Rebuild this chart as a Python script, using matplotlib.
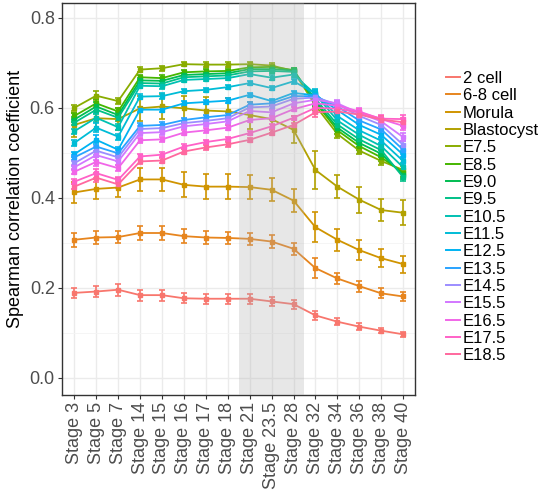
import numpy as np
import matplotlib
matplotlib.use("Agg")
import matplotlib.pyplot as plt

plt.rcParams['font.family'] = ['Liberation Sans', 'DejaVu Sans']

stages = ["Stage 3", "Stage 5", "Stage 7", "Stage 14", "Stage 15", "Stage 16",
          "Stage 17", "Stage 18", "Stage 21", "Stage 23.5", "Stage 28",
          "Stage 32", "Stage 34", "Stage 36", "Stage 38", "Stage 40"]

# mean correlation per mouse sample, one list per sample
cell2 = [0.189, 0.192, 0.196, 0.184, 0.184, 0.177, 0.176, 0.176, 0.176, 0.170, 0.164, 0.139, 0.125, 0.114, 0.105, 0.097]
cell68 = [0.307, 0.312, 0.313, 0.322, 0.322, 0.315, 0.312, 0.311, 0.309, 0.303, 0.287, 0.244, 0.221, 0.204, 0.188, 0.181]
morula = [0.412, 0.420, 0.423, 0.441, 0.441, 0.429, 0.425, 0.425, 0.424, 0.418, 0.394, 0.335, 0.307, 0.284, 0.266, 0.253]
blast = [0.562, 0.577, 0.575, 0.599, 0.603, 0.599, 0.594, 0.592, 0.584, 0.575, 0.551, 0.462, 0.425, 0.396, 0.373, 0.367]
e75 = [0.600, 0.627, 0.615, 0.685, 0.688, 0.697, 0.696, 0.696, 0.697, 0.694, 0.682, 0.605, 0.542, 0.505, 0.482, 0.462]
e85 = [0.582, 0.610, 0.592, 0.668, 0.666, 0.679, 0.681, 0.682, 0.690, 0.691, 0.684, 0.612, 0.550, 0.515, 0.490, 0.456]
e90 = [0.574, 0.603, 0.584, 0.661, 0.660, 0.673, 0.675, 0.677, 0.686, 0.686, 0.683, 0.615, 0.556, 0.522, 0.498, 0.451]
e95 = [0.567, 0.596, 0.578, 0.655, 0.654, 0.668, 0.670, 0.672, 0.681, 0.682, 0.680, 0.620, 0.563, 0.530, 0.506, 0.446]
e105 = [0.548, 0.578, 0.557, 0.649, 0.648, 0.662, 0.664, 0.666, 0.675, 0.667, 0.674, 0.630, 0.572, 0.540, 0.515, 0.468]
e115 = [0.522, 0.556, 0.536, 0.625, 0.626, 0.637, 0.640, 0.646, 0.655, 0.644, 0.659, 0.632, 0.582, 0.550, 0.527, 0.482]
e125 = [0.497, 0.529, 0.507, 0.596, 0.596, 0.610, 0.613, 0.616, 0.629, 0.615, 0.633, 0.628, 0.595, 0.562, 0.540, 0.496]
e135 = [0.490, 0.514, 0.499, 0.560, 0.562, 0.573, 0.579, 0.584, 0.607, 0.610, 0.626, 0.626, 0.603, 0.572, 0.552, 0.507]
e145 = [0.477, 0.505, 0.490, 0.553, 0.555, 0.566, 0.571, 0.577, 0.601, 0.603, 0.620, 0.623, 0.608, 0.582, 0.562, 0.518]
e155 = [0.468, 0.495, 0.481, 0.544, 0.546, 0.559, 0.564, 0.570, 0.593, 0.590, 0.610, 0.618, 0.610, 0.588, 0.570, 0.535]
e165 = [0.458, 0.480, 0.466, 0.528, 0.530, 0.545, 0.550, 0.556, 0.573, 0.577, 0.597, 0.610, 0.605, 0.592, 0.575, 0.560]
e175 = [0.436, 0.455, 0.440, 0.492, 0.496, 0.514, 0.524, 0.531, 0.544, 0.559, 0.578, 0.600, 0.598, 0.590, 0.576, 0.575]
e185 = [0.425, 0.445, 0.430, 0.481, 0.483, 0.503, 0.512, 0.519, 0.529, 0.545, 0.562, 0.590, 0.592, 0.585, 0.574, 0.568]

# standard errors
cell2_se = [0.011, 0.012, 0.013, 0.012, 0.012, 0.011, 0.011, 0.011, 0.011, 0.010, 0.010, 0.010, 0.008, 0.007, 0.006, 0.006]
cell68_se = [0.015, 0.014, 0.014, 0.016, 0.016, 0.015, 0.014, 0.014, 0.014, 0.014, 0.013, 0.022, 0.013, 0.012, 0.011, 0.011]
morula_se = [0.024, 0.023, 0.022, 0.026, 0.026, 0.028, 0.027, 0.027, 0.026, 0.026, 0.026, 0.033, 0.024, 0.022, 0.020, 0.019]
blast_se = [0.026, 0.025, 0.025, 0.028, 0.028, 0.028, 0.030, 0.030, 0.030, 0.030, 0.030, 0.043, 0.026, 0.029, 0.025, 0.028]
embryo_se = [0.006, 0.010, 0.007, 0.006, 0.006, 0.005, 0.005, 0.005, 0.005, 0.005, 0.005, 0.010, 0.008, 0.008, 0.008, 0.009]

samples = ["2 cell", "6-8 cell", "Morula", "Blastocyst", "E7.5", "E8.5", "E9.0",
           "E9.5", "E10.5", "E11.5", "E12.5", "E13.5", "E14.5", "E15.5",
           "E16.5", "E17.5", "E18.5"]
means = [cell2, cell68, morula, blast, e75, e85, e90, e95, e105, e115,
         e125, e135, e145, e155, e165, e175, e185]
errors = [cell2_se, cell68_se, morula_se, blast_se] + [embryo_se] * 13


def hue_colors(n, l=65, c=100):
    # ggplot2 style evenly spaced HCL hues
    hues = np.linspace(15, 375, n + 1)[:-1]
    xn, yn, zn = 95.047, 100.0, 108.883
    un = 4 * xn / (xn + 15 * yn + 3 * zn)
    vn = 9 * yn / (xn + 15 * yn + 3 * zn)
    out = []
    for h in hues:
        u = c * np.cos(np.radians(h))
        v = c * np.sin(np.radians(h))
        y = yn * ((l + 16) / 116) ** 3
        up = u / (13 * l) + un
        vp = v / (13 * l) + vn
        x = y * 9 * up / (4 * vp)
        z = y * (12 - 3 * up - 20 * vp) / (4 * vp)
        xyz = np.array([x, y, z]) / 100
        m = np.array([[3.2404542, -1.5371385, -0.4985314],
                      [-0.9692660, 1.8760108, 0.0415560],
                      [0.0556434, -0.2040259, 1.0572252]])
        rgb = m @ xyz
        rgb = np.where(rgb > 0.0031308, 1.055 * np.abs(rgb) ** (1 / 2.4) - 0.055, 12.92 * rgb)
        out.append(tuple(np.clip(rgb, 0, 1)))
    return out


colors = hue_colors(len(samples))
xs = np.arange(len(stages))

fig = plt.figure(figsize=(5.42, 4.92), dpi=100)
ax = fig.add_axes([0.114, 0.197, 0.652, 0.797])

ax.set_axisbelow(True)
ax.grid(True, which='major', color='#ebebeb', linewidth=1.0)
ax.grid(True, which='minor', axis='y', color='#f4f4f4', linewidth=0.6)

for name, m, e, col in zip(samples, means, errors, colors):
    ax.errorbar(xs, m, yerr=e, color=col, linewidth=1.3, marker='s', markersize=2.6,
                capsize=2.5, capthick=1.2, elinewidth=1.2, label=name)

ax.axvspan(7.5, 10.5, color='#b0b0b0', alpha=0.3, linewidth=0, zorder=5)

ax.set_xlim(-0.57, 15.55)
ax.set_ylim(-0.038, 0.833)
ax.set_xticks(xs)
ax.set_xticklabels(stages, rotation=90, fontsize=13, color='#4d4d4d')
ax.set_yticks([0.0, 0.2, 0.4, 0.6, 0.8])
ax.set_yticklabels(["0.0", "0.2", "0.4", "0.6", "0.8"], fontsize=13, color='#4d4d4d')
ax.set_yticks([0.1, 0.3, 0.5, 0.7], minor=True)
ax.tick_params(axis='y', which='minor', length=0)
ax.tick_params(axis='both', which='major', length=3, color='#333333', pad=2)
for s in ax.spines.values():
    s.set_color('#333333')
    s.set_linewidth(1.0)

ax.set_ylabel("Spearman correlation coefficient", fontsize=13, labelpad=4)

handles = [plt.Line2D([], [], color=c, linewidth=1.4) for c in colors]
fig.legend(handles, samples, loc='upper left', bbox_to_anchor=(0.822, 0.856),
           frameon=False, fontsize=12, handlelength=0.85, handletextpad=0.18,
           labelspacing=0.14, borderpad=0, borderaxespad=0)

fig.savefig("out.png", dpi=100)
